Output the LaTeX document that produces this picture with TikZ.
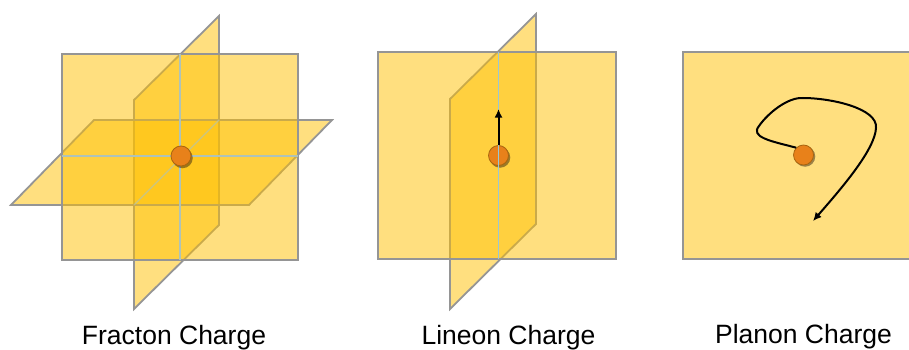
\documentclass[tikz,border=0pt]{standalone}
\usepackage{fontspec}
\setmainfont{Liberation Sans}
\usetikzlibrary{arrows.meta}
\definecolor{planefill}{HTML}{FFC000}
\definecolor{planeedge}{HTML}{959595}
\definecolor{seam}{HTML}{AFC3B8}
\definecolor{seamblue}{HTML}{9CC6D4}
\definecolor{chargefill}{HTML}{E8811A}
\definecolor{chargeedge}{HTML}{A8650F}
\tikzset{
  plane/.style={fill=planefill,fill opacity=0.5,draw=planeedge,draw opacity=1,line width=1.8pt,line join=miter},
  seamline/.style={draw=seam,line width=1.1pt},
  seamfaint/.style={draw=seam,draw opacity=0.65,line width=1.1pt},
  seamlineblue/.style={draw=seamblue,line width=1.1pt},
  charge/.style={circle,draw=chargeedge,line width=0.8pt,fill=chargefill,minimum size=20pt,inner sep=0pt},
  chargeshadow/.style={circle,fill=black!70!brown,fill opacity=0.5,minimum size=20.5pt,inner sep=0pt},
  motion/.style={draw=black,line width=2pt,-{Latex[length=8.5pt,width=8pt]}},
  caption/.style={anchor=base,inner sep=0pt,font=\fontsize{26.5}{30}\selectfont,text=black}
}
\begin{document}
\begin{tikzpicture}[x=1pt,y=-1pt]
\useasboundingbox (0,0) rectangle (909,350);
\clip (0,0) rectangle (909,350);
% Fracton
\path[plane] (134,100) -- (219,16) -- (219,225) -- (134,309) -- cycle;
\path[plane] (94,120) -- (332,120) -- (249,205) -- (11,205) -- cycle;
\path[plane] (62,54) rectangle (298,260);
\draw[seamline] (180,54) -- (180,260);
\draw[seamline] (62,156) -- (298,156);
\draw[seamfaint] (134,205) -- (219,120);
\node[chargeshadow] at (182.5,158) {};
\node[charge] (fc) at (181,156) {};
\node[caption] (ft) at (174,344.3) {Fracton Charge};
% Lineon
\path[plane] (450,99) -- (536,14) -- (536,224) -- (450,309) -- cycle;
\path[plane] (378,52) rectangle (616,259);
\node[chargeshadow] at (500,157.5) {};
\node[charge] (lc) at (498.5,155.5) {};
\draw[seamlineblue] (498.5,52) -- (498.5,259);
\coordinate (lend) at (498.5,109);
\draw[motion] (lc.north) -- (lend);
\node[caption] (lt) at (508.5,344.3) {Lineon Charge};
% Planon
\path[plane] (683,52) rectangle (925,259);
\node[chargeshadow] at (805,156.5) {};
\node[charge] (pc) at (803.5,155) {};
\coordinate (pend) at (813,221);
\draw[motion] (pc.north west) .. controls (770,141) and (750,137) .. (759,126)
  .. controls (768,113) and (788,97) .. (803,98)
  .. controls (830,98) and (878,108) .. (876,128)
  .. controls (875,150) and (840,190) .. (pend);
\node[caption] (pt) at (803.5,343) {Planon Charge};
\end{tikzpicture}
\end{document}
